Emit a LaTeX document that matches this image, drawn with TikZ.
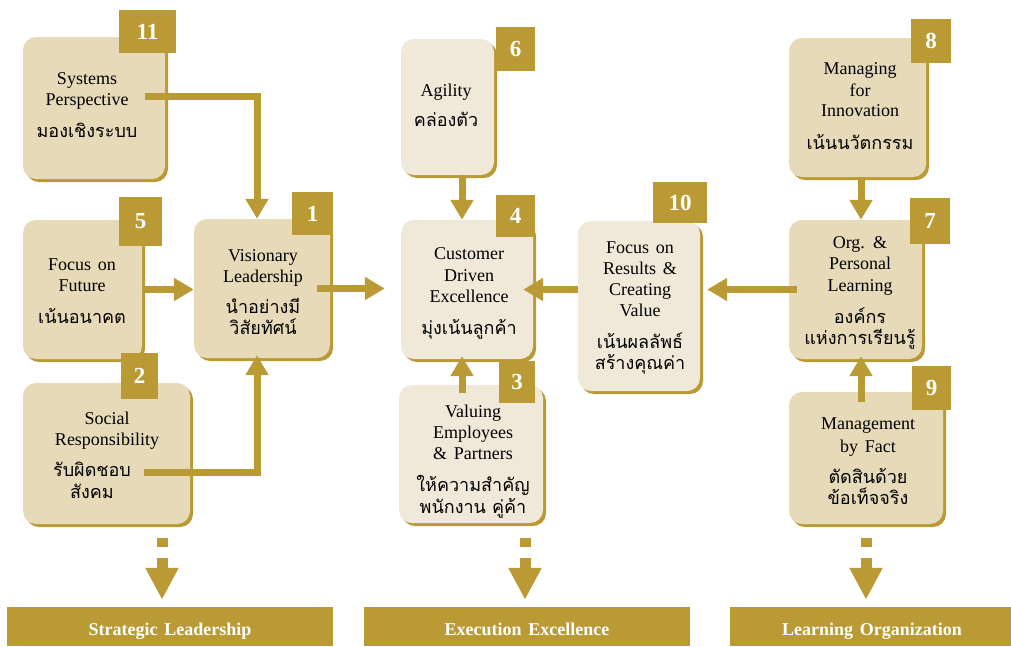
\documentclass[tikz,border=0pt]{standalone}
\usepackage{fontspec}
\setmainfont{Liberation Serif}[WordSpace=1.5]
\newfontfamily\thaifont[Script=Thai]{Loma}
\usetikzlibrary{arrows.meta,shadows,calc}
\definecolor{gold}{HTML}{BA9A34}
\definecolor{sand}{HTML}{E6DAB9}
\definecolor{cream}{HTML}{F0E9DA}
\begin{document}
\begin{tikzpicture}[x=1pt,y=-1pt,
  panel/.style={rectangle, rounded corners=13pt, inner sep=0pt,
    drop shadow={shadow xshift=3pt, shadow yshift=-3pt, fill=gold, opacity=1}},
  warm/.style={panel, fill=sand},
  pale/.style={panel, fill=cream},
  badge/.style={fill=gold, text=white, inner sep=0pt, font=\bfseries\fontsize{23}{23}\selectfont},
  en/.style={anchor=base, inner sep=0pt, font=\fontsize{18}{21}\selectfont},
  th/.style={anchor=base, inner sep=0pt, font=\thaifont\fontsize{18}{21}\selectfont},
  link/.style={draw=gold, line width=7pt, -{Triangle[width=22pt,length=20pt]}},
  feed/.style={draw=gold, line width=11pt, dash pattern=on 9pt off 11pt on 40pt,
    -{Triangle[width=31pt,length=32pt]}, shorten >=7pt},
  bar/.style={fill=gold, inner sep=0pt, minimum height=39pt},
  barlabel/.style={anchor=base, inner sep=0pt, text=white, font=\bfseries\fontsize{18}{21}\selectfont}
]
\useasboundingbox (0,0) rectangle (1011,646);

% ---- value boxes ----
\node[warm, minimum width=142pt, minimum height=142pt] (b11) at (94,108) {};
\node[warm, minimum width=119pt, minimum height=139pt] (b5)  at (82.5,289.5) {};
\node[warm, minimum width=136pt, minimum height=139pt] (b1)  at (262,288.5) {};
\node[warm, minimum width=167pt, minimum height=141pt] (b2)  at (106.5,453.5) {};
\node[pale, minimum width=93pt,  minimum height=136pt] (b6)  at (447.5,107) {};
\node[pale, minimum width=132pt, minimum height=139pt] (b4)  at (467,289.5) {};
\node[pale, minimum width=122pt, minimum height=170pt] (b10) at (639,306) {};
\node[pale, minimum width=144pt, minimum height=138pt] (b3)  at (471,454) {};
\node[warm, minimum width=137pt, minimum height=139pt] (b8)  at (857.5,107.5) {};
\node[warm, minimum width=133pt, minimum height=139pt] (b7)  at (855.5,289.5) {};
\node[warm, minimum width=154pt, minimum height=132pt] (b9)  at (866,458) {};

% ---- bottom bars ----
\node[bar, minimum width=326pt] (barS) at (170,626.5) {};
\node[bar, minimum width=326pt] (barE) at (527,626.5) {};
\node[bar, minimum width=281pt] (barL) at (870.5,626.5) {};
\node[barlabel] (lS) at (170,635) {Strategic Leadership};
\node[barlabel] (lE) at (527,635) {Execution Excellence};
\node[barlabel] (lL) at (872,635) {Learning Organization};

% ---- connectors ----
\coordinate (colM) at (462,0);
\coordinate (colR) at (861,0);
\draw[link] ([xshift=-20pt,yshift=12pt]b11.east) -| ([xshift=-5pt]b1.north);
\draw[link, shorten >=-3pt] ([xshift=-46pt,yshift=-18.5pt]b2.east) -| ([xshift=-5pt]b1.south);
\draw[link] (b5.east) -- (b5.east -| b1.west);
\draw[link] ([xshift=-13pt]b1.east) -- ($(b1.east -| b4.west)+(-16,0)$);
\draw[link] (b10.west |- b4.east) -- ($(b4.east)+(-10,0)$);
\draw[link] ($(b7.west)+(8,0)$) -- ($(b10.east |- b7.west)+(7,0)$);
\draw[link] (b6.south -| colM) -- (b4.north -| colM);
\draw[link, shorten >=-3pt] ([yshift=-8pt]b3.north -| colM) -- (b4.south -| colM);
\draw[link] (b8.south -| colR) -- (b7.north -| colR);
\draw[link, shorten >=-3pt] ([yshift=-10pt]b9.north -| colR) -- (b7.south -| colR);

\coordinate (fS) at (162,538);
\coordinate (fE) at (525,538);
\coordinate (fL) at (866,538);
\draw[feed] (fS) -- (fS |- barS.north);
\draw[feed] (fE) -- (fE |- barE.north);
\draw[feed] (fL) -- (fL |- barL.north);

% ---- numbered badges ----
\node[badge, minimum width=57pt, minimum height=43pt] (n11) at (147.5,31.5) {11};
\node[badge, minimum width=43pt, minimum height=49pt] (n5)  at (140.5,221.5) {5};
\node[badge, minimum width=41pt, minimum height=43pt] (n1)  at (312.5,213.5) {1};
\node[badge, minimum width=37pt, minimum height=46pt] (n2)  at (139.5,376) {2};
\node[badge, minimum width=39pt, minimum height=44pt] (n6)  at (515.5,49) {6};
\node[badge, minimum width=39pt, minimum height=42pt] (n4)  at (515.5,216) {4};
\node[badge, minimum width=54pt, minimum height=41pt] (n10) at (680,202.5) {10};
\node[badge, minimum width=36pt, minimum height=42pt] (n3)  at (517,382) {3};
\node[badge, minimum width=40pt, minimum height=44pt] (n8)  at (931,41) {8};
\node[badge, minimum width=40pt, minimum height=46pt] (n7)  at (930,221) {7};
\node[badge, minimum width=39pt, minimum height=44pt] (n9)  at (931.5,388) {9};

% ---- box texts ----
\node[en] (t11a) at (87,84)  {Systems};
\node[en] (t11b) at (87,105) {Perspective};
\node[th] (t11c) at (87,137) {มองเชิงระบบ};

\node[en] (t5a) at (82,270) {Focus on};
\node[en] (t5b) at (82,291) {Future};
\node[th] (t5c) at (82,323) {เน้นอนาคต};

\node[en] (t1a) at (263,261) {Visionary};
\node[en] (t1b) at (263,282) {Leadership};
\node[th] (t1c) at (263,313) {นำอย่างมี};
\node[th] (t1d) at (263,334) {วิสัยทัศน์};

\node[en] (t2a) at (107,424) {Social};
\node[en] (t2b) at (107,445) {Responsibility};
\node[th] (t2c) at (92,476)  {รับผิดชอบ};
\node[th] (t2d) at (92,498)  {สังคม};

\node[en] (t6a) at (446,96)  {Agility};
\node[th] (t6b) at (446,126) {คล่องตัว};

\node[en] (t4a) at (469,259) {Customer};
\node[en] (t4b) at (469,281) {Driven};
\node[en] (t4c) at (469,302) {Excellence};
\node[th] (t4d) at (469,334) {มุ่งเน้นลูกค้า};

\node[en] (t10a) at (640,253) {Focus on};
\node[en] (t10b) at (640,274) {Results \&};
\node[en] (t10c) at (640,295) {Creating};
\node[en] (t10d) at (640,316) {Value};
\node[th] (t10e) at (640,348) {เน้นผลลัพธ์};
\node[th] (t10f) at (640,369) {สร้างคุณค่า};

\node[en] (t3a) at (473,417) {Valuing};
\node[en] (t3b) at (473,438) {Employees};
\node[en] (t3c) at (473,459) {\& Partners};
\node[th] (t3d) at (473,491) {ให้ความสำคัญ};
\node[th] (t3e) at (473,513) {พนักงาน คู่ค้า};

\node[en] (t8a) at (860,74)  {Managing};
\node[en] (t8b) at (860,96)  {for};
\node[en] (t8c) at (860,116) {Innovation};
\node[th] (t8d) at (860,149) {เน้นนวัตกรรม};

\node[en] (t7a) at (860,248) {Org. \&};
\node[en] (t7b) at (860,269) {Personal};
\node[en] (t7c) at (860,291) {Learning};
\node[th] (t7d) at (860,323) {องค์กร};
\node[th] (t7e) at (860,344) {แห่งการเรียนรู้};

\node[en] (t9a) at (868,429) {Management};
\node[en] (t9b) at (868,452) {by Fact};
\node[th] (t9c) at (868,483) {ตัดสินด้วย};
\node[th] (t9d) at (868,504) {ข้อเท็จจริง};
\end{tikzpicture}
\end{document}
